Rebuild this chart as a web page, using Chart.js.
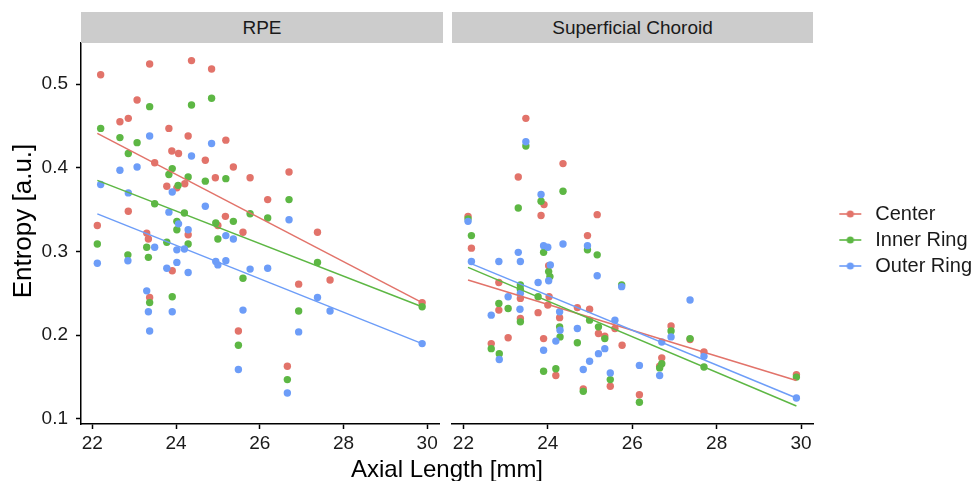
<!DOCTYPE html>
<html><head><meta charset="utf-8">
<script src="https://cdn.jsdelivr.net/npm/chart.js@4.4.0/dist/chart.umd.min.js"></script>
<style>
html,body{margin:0;padding:0;background:#fff;overflow:hidden;width:974px;height:481px;}
#wrap{position:relative;width:974px;height:481px;overflow:hidden;font-family:'Liberation Sans',Arial,sans-serif;}
.box{position:absolute;top:0;height:481px;}
.strip{position:absolute;top:12px;height:31px;background:#CCCCCC;color:#1a1a1a;font-size:19px;line-height:31px;text-align:center;}
#xtitle{position:absolute;left:247px;width:400px;top:457px;height:24px;line-height:24px;font-size:24px;text-align:center;color:#000;}
#ytitle{position:absolute;left:-78.5px;top:206px;width:200px;height:30px;line-height:30px;font-size:26px;text-align:center;color:#000;transform:rotate(-90deg);transform-origin:50% 50%;white-space:nowrap;}
</style></head>
<body><div id="wrap">
<div class="box" style="left:0;width:443px"><canvas id="c1"></canvas></div>
<div class="box" style="left:440px;width:542px"><canvas id="c2"></canvas></div>
<div class="strip" id="s1" style="left:81px;width:362px"></div>
<div class="strip" id="s2" style="left:452px;width:361px"></div>
<div id="xtitle"></div>
<div id="ytitle"></div>
</div>
<script>
// ---- data ----
const panels = ['RPE', 'Superficial Choroid'];
const seriesNames = ['Center', 'Inner Ring', 'Outer Ring'];
const xTicks = [22, 24, 26, 28, 30];
const yTicks = [0.1, 0.2, 0.3, 0.4, 0.5];
const xTitle = 'Axial Length [mm]';
const yTitle = 'Entropy [a.u.]';

// RPE panel: [axial length, entropy]
const rpeCenter = [[22.20,0.511],[23.37,0.524],[24.37,0.528],[24.85,0.518],[23.07,0.481],[22.66,0.455],[22.86,0.459],[23.83,0.447],[24.29,0.438],[25.19,0.433],[23.90,0.420],[24.06,0.417],[23.49,0.406],[24.70,0.409],[25.37,0.401],[24.94,0.388],[25.77,0.388],[23.78,0.378],[24.21,0.381],[24.02,0.376],[26.19,0.362],[22.86,0.348],[25.18,0.342],[22.12,0.331],[25.00,0.331],[23.30,0.322],[23.34,0.315],[23.37,0.245],[23.91,0.277],[24.29,0.320],[25.60,0.323],[25.49,0.205],[26.70,0.395],[27.38,0.323],[26.93,0.261],[27.68,0.266],[26.66,0.163],[29.88,0.239]];
const rpeInner = [[23.37,0.473],[24.37,0.475],[24.85,0.483],[22.20,0.447],[22.66,0.436],[23.07,0.430],[22.86,0.417],[23.91,0.399],[23.83,0.392],[24.29,0.389],[25.19,0.387],[24.70,0.384],[24.05,0.379],[23.49,0.357],[24.20,0.346],[25.77,0.345],[26.19,0.340],[25.37,0.336],[24.02,0.336],[24.95,0.334],[22.12,0.309],[22.85,0.296],[23.30,0.305],[23.34,0.293],[23.37,0.239],[23.78,0.311],[24.29,0.309],[24.02,0.326],[23.91,0.246],[25.00,0.315],[25.60,0.268],[25.49,0.188],[26.70,0.362],[27.38,0.287],[26.93,0.229],[26.66,0.147],[29.88,0.234]];
const rpeOuter = [[23.37,0.438],[24.85,0.429],[24.37,0.414],[22.66,0.397],[23.07,0.401],[22.20,0.380],[22.86,0.370],[23.91,0.371],[24.70,0.354],[23.83,0.347],[24.06,0.333],[24.29,0.326],[22.12,0.286],[22.85,0.289],[23.49,0.305],[23.30,0.253],[23.34,0.228],[23.37,0.205],[24.02,0.302],[24.02,0.287],[23.78,0.280],[24.20,0.303],[24.29,0.275],[23.91,0.228],[25.19,0.319],[25.37,0.315],[25.60,0.230],[24.95,0.288],[25.00,0.284],[25.19,0.289],[25.77,0.279],[26.19,0.280],[25.49,0.159],[26.70,0.338],[27.38,0.245],[27.68,0.229],[26.93,0.204],[26.66,0.131],[29.88,0.190]];

// Superficial Choroid panel
const chorCenter = [[23.48,0.459],[24.36,0.405],[23.30,0.389],[23.91,0.356],[23.84,0.343],[25.17,0.344],[22.11,0.342],[24.94,0.319],[22.19,0.304],[24.02,0.283],[22.84,0.263],[23.35,0.244],[24.03,0.246],[24.00,0.236],[22.84,0.230],[23.35,0.220],[23.77,0.227],[24.28,0.221],[24.70,0.233],[24.99,0.231],[25.20,0.202],[25.35,0.199],[25.59,0.208],[25.76,0.188],[23.06,0.197],[23.90,0.196],[22.66,0.190],[24.19,0.152],[24.84,0.136],[25.48,0.139],[26.17,0.129],[26.92,0.211],[27.37,0.195],[27.70,0.180],[26.70,0.173],[26.65,0.163],[29.89,0.153]];
const chorInner = [[23.48,0.426],[24.36,0.372],[23.84,0.360],[23.30,0.352],[22.11,0.339],[22.19,0.319],[24.94,0.302],[23.90,0.299],[25.17,0.296],[24.02,0.276],[24.05,0.270],[25.75,0.260],[23.35,0.260],[23.35,0.255],[23.77,0.246],[22.84,0.238],[23.06,0.232],[23.35,0.216],[24.99,0.218],[24.28,0.210],[24.29,0.198],[25.20,0.210],[25.35,0.196],[24.70,0.191],[22.66,0.184],[22.85,0.178],[23.90,0.157],[24.19,0.160],[24.84,0.133],[25.48,0.147],[26.17,0.120],[26.92,0.205],[27.37,0.196],[27.70,0.162],[26.70,0.166],[26.65,0.161],[29.89,0.150]];
const chorOuter = [[23.48,0.431],[23.84,0.368],[22.11,0.336],[23.90,0.307],[24.00,0.305],[24.36,0.309],[24.94,0.307],[23.30,0.299],[22.19,0.288],[22.84,0.288],[23.35,0.288],[24.06,0.284],[24.02,0.265],[25.17,0.271],[25.75,0.258],[23.77,0.263],[23.35,0.250],[23.06,0.246],[23.34,0.231],[22.66,0.224],[24.28,0.228],[24.29,0.206],[24.70,0.208],[25.59,0.218],[24.19,0.193],[22.85,0.171],[23.90,0.182],[25.35,0.184],[25.20,0.178],[24.99,0.169],[24.84,0.159],[25.48,0.155],[26.17,0.164],[27.37,0.242],[26.92,0.198],[26.70,0.192],[27.70,0.175],[26.65,0.152],[29.89,0.125]];

// fitted (linear smooth) lines: values at the two ends
const rpeFitX = [22.12, 29.88];
const rpeFitCenter = [0.441, 0.239];
const rpeFitInner = [0.385, 0.234];
const rpeFitOuter = [0.345, 0.190];
const chorFitX = [22.11, 29.89];
const chorFitCenter = [0.266, 0.146];
const chorFitInner = [0.281, 0.1155];
const chorFitOuter = [0.287, 0.125];

const xRange = [21.73, 30.29];
const yRange = [0.094, 0.549];

// ---- styling ----
const colors = ['#E2736A', '#5DB744', '#6D9DF8'];
const FAM = "'Liberation Sans', Arial, sans-serif";
Chart.defaults.font.family = FAM;
Chart.defaults.color = '#1a1a1a';

document.getElementById('s1').textContent = panels[0];
document.getElementById('s2').textContent = panels[1];
document.getElementById('xtitle').textContent = xTitle;
document.getElementById('ytitle').textContent = yTitle;

function legendIcon(c) {
  const cv = document.createElement('canvas');
  cv.width = 40; cv.height = 12;
  const g = cv.getContext('2d');
  g.strokeStyle = c; g.lineWidth = 1.6;
  g.beginPath(); g.moveTo(17, 6); g.lineTo(39, 6); g.stroke();
  g.fillStyle = c; g.beginPath(); g.arc(28, 6, 3.6, 0, Math.PI * 2); g.fill();
  return cv;
}

function buildDatasets(series, fitX, fits) {
  const ds = [];
  series.forEach((pts, i) => ds.push({
    type: 'scatter', label: seriesNames[i],
    data: pts.map(p => ({x: p[0], y: p[1]})),
    backgroundColor: colors[i], borderWidth: 0, pointRadius: 3.7, pointHoverRadius: 3.7,
    order: 6 - i
  }));
  fits.forEach((f, i) => ds.push({
    type: 'line', label: seriesNames[i] + ' fit',
    data: fitX.map((x, k) => ({x: x, y: f[k]})),
    borderColor: colors[i], borderWidth: 1.5, pointRadius: 0, fill: false, tension: 0,
    order: 3 - i
  }));
  return ds;
}

function xScale() {
  return {
    type: 'linear', min: xRange[0], max: xRange[1],
    afterBuildTicks: s => { s.ticks = xTicks.map(v => ({value: v})); },
    ticks: {font: {size: 19}, color: '#1a1a1a', padding: 3, maxRotation: 0, autoSkip: false, callback: v => String(v)},
    grid: {drawOnChartArea: false, drawTicks: true, tickLength: 5, tickColor: '#000', tickWidth: 1.5},
    border: {display: true, color: '#000', width: 1.5},
    afterFit: s => { s.height = 57; }
  };
}
function yScale(show) {
  const sc = {
    type: 'linear', min: yRange[0], max: yRange[1], display: show,
    afterBuildTicks: s => { s.ticks = yTicks.map(v => ({value: v})); },
    ticks: {font: {size: 19}, color: '#1a1a1a', padding: 8, callback: v => Number(v).toFixed(1)},
    grid: {drawOnChartArea: false, drawTicks: true, tickLength: 5, tickColor: '#000', tickWidth: 1.5},
    border: {display: true, color: '#000', width: 1.5}
  };
  if (show) sc.afterFit = s => { s.width = 81; };
  return sc;
}

new Chart(document.getElementById('c1'), {
  type: 'scatter',
  data: {datasets: buildDatasets([rpeCenter, rpeInner, rpeOuter], rpeFitX, [rpeFitCenter, rpeFitInner, rpeFitOuter])},
  options: {
    responsive: true, maintainAspectRatio: false, animation: false, events: [],
    layout: {padding: {top: 43, right: 1.1, left: 0, bottom: 0}},
    scales: {x: xScale(), y: yScale(true)},
    plugins: {legend: {display: false}, tooltip: {enabled: false}}
  }
});

new Chart(document.getElementById('c2'), {
  type: 'scatter',
  data: {datasets: buildDatasets([chorCenter, chorInner, chorOuter], chorFitX, [chorFitCenter, chorFitInner, chorFitOuter])},
  options: {
    responsive: true, maintainAspectRatio: false, animation: false, events: [],
    layout: {padding: {top: 43, right: 0, left: 12, bottom: 0}},
    scales: {x: xScale(), y: yScale(false)},
    plugins: {
      tooltip: {enabled: false},
      legend: {
        display: true, position: 'right', align: 'center', fullSize: false,
        title: {display: true, text: '', font: {size: 13, lineHeight: 1}, padding: 0},
        labels: {
          usePointStyle: true, pointStyleWidth: 46, padding: 6,
          font: {size: 20}, color: '#1a1a1a',
          generateLabels: () => seriesNames.map((n, i) => ({
            text: n, pointStyle: legendIcon(colors[i]), fillStyle: colors[i],
            strokeStyle: colors[i], lineWidth: 0, hidden: false, datasetIndex: i, fontColor: '#1a1a1a'
          }))
        }
      }
    }
  }
});
</script>
</body></html>
